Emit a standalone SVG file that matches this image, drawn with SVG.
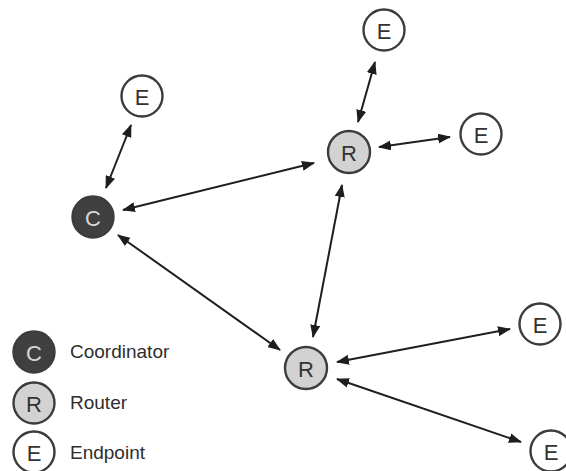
<svg xmlns="http://www.w3.org/2000/svg" width="566" height="471" viewBox="0 0 566 471">
<style>
.node{stroke:#3c3c3c;stroke-width:2.4}
.e{fill:#fff}
.r{fill:#d2d2d2}
.c{fill:#404040}
.lbl{font-family:"Liberation Sans",Arial,sans-serif;font-size:22px;text-anchor:middle;dominant-baseline:central;fill:#333}
.lc{fill:#d8d8d8}
.leg{font-family:"Liberation Sans",Arial,sans-serif;font-size:19px;fill:#2e2e2e}
.conn line{stroke:#1e1e1e;stroke-width:2;marker-start:url(#ah);marker-end:url(#ah)}
</style>
<defs>
<marker id="ah" viewBox="0 0 13 10" refX="12" refY="5" markerWidth="13" markerHeight="10" markerUnits="userSpaceOnUse" orient="auto-start-reverse">
<path d="M0,0 L13,5 L0,10 z" fill="#1e1e1e"/>
</marker>
</defs>
<rect width="566" height="471" fill="#fff"/>
<g id="connectors" class="conn">
<line x1="131" y1="125" x2="106" y2="188"/>
<line x1="314" y1="163" x2="123" y2="210"/>
<line x1="280" y1="350" x2="118" y2="235"/>
<line x1="375" y1="62" x2="358" y2="122"/>
<line x1="379" y1="147" x2="450" y2="137"/>
<line x1="342" y1="185" x2="313" y2="337"/>
<line x1="337" y1="362" x2="510" y2="329"/>
<line x1="337" y1="379" x2="521" y2="442"/>
</g>
<g id="node-e1"><circle class="node e" cx="142" cy="96" r="20.5"/><text class="lbl" x="142" y="97">E</text></g>
<g id="node-c"><circle class="node c" cx="93" cy="217" r="20.5"/><text class="lbl lc" x="93" y="218">C</text></g>
<g id="node-r1"><circle class="node r" cx="349" cy="152" r="21"/><text class="lbl" x="349" y="153">R</text></g>
<g id="node-e2"><circle class="node e" cx="384" cy="30" r="20.5"/><text class="lbl" x="384" y="31">E</text></g>
<g id="node-e3"><circle class="node e" cx="481" cy="134" r="20.5"/><text class="lbl" x="481" y="135">E</text></g>
<g id="node-r2"><circle class="node r" cx="306" cy="368" r="21"/><text class="lbl" x="306" y="369">R</text></g>
<g id="node-e4"><circle class="node e" cx="540" cy="324" r="20.5"/><text class="lbl" x="540" y="325">E</text></g>
<g id="node-e5"><circle class="node e" cx="551" cy="451" r="20.5"/><text class="lbl" x="551" y="452">E</text></g>
<g id="legend">
<g id="legend-c"><circle class="node c" cx="34" cy="352" r="20.5"/><text class="lbl lc" x="34" y="353">C</text><text class="leg" x="70" y="358">Coordinator</text></g>
<g id="legend-r"><circle class="node r" cx="34" cy="403" r="20.5"/><text class="lbl" x="34" y="404">R</text><text class="leg" x="70" y="409">Router</text></g>
<g id="legend-e"><circle class="node e" cx="34" cy="452" r="20.5"/><text class="lbl" x="34" y="453">E</text><text class="leg" x="70" y="459">Endpoint</text></g>
</g>
</svg>
